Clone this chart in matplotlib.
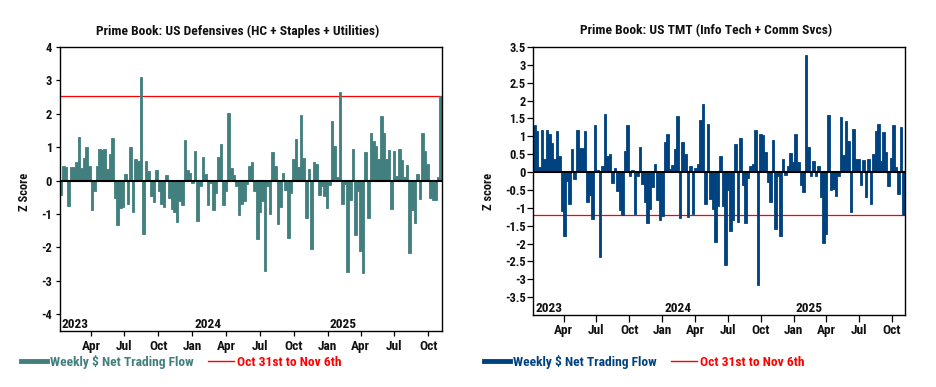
import datetime as dt
import matplotlib
matplotlib.use("Agg")
import matplotlib.pyplot as plt
import matplotlib.dates as mdates
from matplotlib import font_manager as fm
from matplotlib.lines import Line2D
from matplotlib.font_manager import FontProperties
from matplotlib.ticker import FixedLocator, FormatStrFormatter

# ---------------- data ----------------
first_week_start = dt.date(2023, 1, 6)   # weekly bars, last = Oct 31st to Nov 6th 2025
n_weeks = 148

defensives = [
    -0.43, 0.45, 0.40, -0.77, 0.40, 0.42, 0.57, 1.31, 0.37, 0.69,
    1.01, 0.45, -0.87, -0.30, 0.45, 0.96, 0.93, 0.95, 0.34, 0.81,
    1.28, -0.53, -1.33, -0.82, -0.79, 0.21, -0.69, 1.01, -0.95, 0.66,
    0.58, 3.10, -1.60, 0.60, 0.30, -0.45, -0.65, 0.33, -0.30, -0.70,
    -0.80, 0.18, -0.53, -0.85, -0.94, -1.24, -0.60, -0.72, 1.22, 0.33,
    0.24, -0.08, 0.90, -1.21, -0.17, 0.72, 0.21, -0.73, -0.08, -0.88,
    -0.38, 0.72, 1.10, -0.73, -0.32, 2.03, 0.38, 0.18, -0.17, -1.03,
    -0.69, -0.60, -0.10, 0.45, 0.57, -0.32, -1.76, -0.95, -0.60, -2.70,
    -0.17, -1.00, 0.87, 0.45, -1.30, -0.80, 0.24, -0.29, -1.72, -0.36,
    0.66, 1.25, 0.42, 1.97, 0.69, -1.12, 0.36, -2.05, 0.57, 0.51,
    -0.44, -0.17, -0.47, -0.83, -0.14, 1.80, 1.05, 0.10, 2.65, -0.71,
    -0.10, -2.73, -0.58, 0.96, -1.63, -0.32, -2.11, -2.77, 0.87, -1.12,
    1.43, 1.19, 1.04, 0.66, 1.94, 1.43, 0.66, 0.93, -0.86, 0.90,
    0.15, 0.96, 0.63, 0.12, 0.48, -2.17, -0.87, -1.28, 0.20, -0.56,
    1.43, 0.90, 0.50, -0.53, -0.59, -0.59, 0.12, 2.54,
]

tmt = [
    1.32, 1.16, 0.15, 1.18, 0.37, 1.18, 1.06, 0.82, 0.37, 1.15,
    0.45, -1.08, -1.80, -0.26, -0.88, 0.65, -0.20, 1.18, 0.68, 0.68,
    1.15, -0.85, -0.65, -1.30, 1.31, 0.06, -2.38, 0.17, 1.63, 0.46,
    0.51, -0.30, 0.12, -0.54, -1.06, -1.19, 0.60, 1.32, -0.12, 0.06,
    -1.18, -0.12, 0.71, -0.32, -0.85, -1.43, -1.03, -0.42, 0.23, -0.79,
    -1.33, -1.24, 0.85, 1.07, 0.09, 0.20, 0.65, 1.57, -1.29, 0.85,
    0.51, -1.27, 0.18, -1.16, 0.11, 0.23, 1.46, 1.91, -0.90, 1.35,
    -0.76, -1.02, -1.96, -0.96, 0.46, -0.96, -2.60, -0.50, -1.66, -1.35,
    0.79, -1.41, 0.96, -0.37, -1.43, -0.18, 0.18, 0.23, 1.18, -3.17,
    1.07, 1.04, 0.57, -0.29, -0.85, 0.90, -1.60, -0.12, -1.80, 0.37,
    -0.09, 0.18, 0.54, 0.29, 1.07, 0.29, -0.37, -0.57, 3.28, 0.71,
    -0.12, 0.32, -0.12, 0.18, -0.71, -1.99, -1.74, 1.60, -0.51, -0.48,
    -0.68, -0.12, 1.55, 0.48, 1.43, 0.88, -1.13, 1.21, 0.37, 0.37,
    -0.37, 0.34, -0.71, 0.37, -0.90, 0.51, 1.15, 1.35, 0.32, 1.13,
    0.57, -0.40, 0.40, 1.32, 0.15, -0.62, 1.27, -1.21,
]

titles = ["Prime Book: US Defensives (HC + Staples + Utilities)",
          "Prime Book: US TMT (Info Tech + Comm Svcs)"]
ylabels = ["Z Score", "Z score"]
legend_labels = ["Weekly $ Net Trading Flow", "Oct 31st to Nov 6th"]
years = [2023, 2024, 2025]
left_yticks = [-4, -3, -2, -1, 0, 1, 2, 3, 4]
right_yticks = [-3.5, -3, -2.5, -2, -1.5, -1, -0.5, 0, 0.5, 1, 1.5, 2, 2.5, 3, 3.5]

# ---------------- style ----------------
names = {f.name for f in fm.fontManager.ttflist}
cands = ["Roboto Condensed", "Liberation Sans Narrow", "DejaVu Sans Condensed",
         "Open Sans Condensed", "Roboto"]
FONT = next((c for c in cands if c in names), "DejaVu Sans")
scale = 1.0 if FONT != "Roboto" else 0.86
plt.rcParams["font.family"] = [FONT, "DejaVu Sans"]
plt.rcParams["font.weight"] = "bold"
plt.rcParams["axes.unicode_minus"] = False

TEAL = "#427F7F"
NAVY = "#00427F"
RED = "#FF0000"
TXT = "#111111"

FS_TITLE = 9.7 * scale
FS_X = 9.6 * scale
FS_Y = 9.0 * scale
FS_LEG = 9.7 * scale
FS_YL = 9.0 * scale

W, H = 936, 387
fig = plt.figure(figsize=(W / 100, H / 100), dpi=100)

week_starts = [first_week_start + dt.timedelta(days=7 * k) for k in range(n_weeks)]
x = mdates.date2num(week_starts)
x0 = x[0]
x1 = x[-1] + 7


def px(l, t, r, b):
    return [l / W, 1 - b / H, (r - l) / W, (b - t) / H]


configs = [
    dict(rect=px(59.5, 47, 442, 331), vals=defensives, color=TEAL, ylim=(-4.5, 4),
         yticks=left_yticks, title_x=238, ylab_x=-0.075, ylab_y=0.49,
         ytl=3.0, ypad=2.5, xtl=3.6, xpad=3.0, leg_x=21),
    dict(rect=px(533.3, 47, 905, 315), vals=tmt, color=NAVY, ylim=(-4, 3.5),
         yticks=right_yticks, title_x=706, ylab_x=-0.103, ylab_y=0.46,
         ytl=4.0, ypad=1.5, xtl=5.0, xpad=1.2, leg_x=484),
]

for i, c in enumerate(configs):
    ax = fig.add_axes(c["rect"])
    vals = c["vals"]
    ax.bar(x, vals, width=7, align="edge", color=c["color"], edgecolor=c["color"],
           linewidth=0.6, zorder=2)
    ax.axhline(0, color="black", lw=1.5, zorder=3)
    ax.axhline(vals[-1], color=RED, lw=0.9, zorder=1)
    ax.set_xlim(x0, x1)
    ax.set_ylim(*c["ylim"])
    ax.yaxis.set_major_locator(FixedLocator(c["yticks"]))
    ax.yaxis.set_major_formatter(FormatStrFormatter("%g"))
    ax.xaxis.set_major_locator(mdates.MonthLocator(bymonth=[1, 4, 7, 10]))
    ax.xaxis.set_major_formatter(mdates.DateFormatter("%b"))
    ax.tick_params(axis="y", direction="out", length=c["ytl"], width=0.9,
                   pad=c["ypad"], labelsize=FS_Y, labelcolor=TXT)
    ax.tick_params(axis="x", direction="out", length=c["xtl"], width=0.9,
                   pad=c["xpad"], labelsize=FS_X, labelcolor=TXT)
    for s in ax.spines.values():
        s.set_linewidth(1.0)
        s.set_color("black")
    for yr in years:
        xd = max(mdates.date2num(dt.date(yr, 1, 1)), x0) + 5
        ax.text(xd, 0.012, str(yr), transform=ax.get_xaxis_transform(),
                ha="left", va="baseline", fontsize=FS_X, color=TXT,
                fontweight="bold")
    ax.set_ylabel(ylabels[i], fontsize=FS_YL, color=TXT, fontweight="bold")
    ax.yaxis.set_label_coords(c["ylab_x"], c["ylab_y"])
    fig.text(c["title_x"] / W, 1 - 31 / H, titles[i], ha="center", va="center",
             fontsize=FS_TITLE, color=TXT, fontweight="bold")

    handles = [Line2D([], [], color=c["color"], lw=3.5),
               Line2D([], [], color=RED, lw=1.0)]
    leg = fig.legend(handles, legend_labels, loc="center left",
                     bbox_to_anchor=(c["leg_x"] / W, 1 - 362 / H), ncol=2,
                     frameon=False, borderpad=0, borderaxespad=0,
                     handlelength=1.9, handletextpad=0.25, columnspacing=1.1,
                     prop=FontProperties(family=[FONT, "DejaVu Sans"], weight="bold",
                                         size=FS_LEG))
    for t, col in zip(leg.get_texts(), [c["color"], RED]):
        t.set_color(col)

fig.savefig("out.png", dpi=100)
